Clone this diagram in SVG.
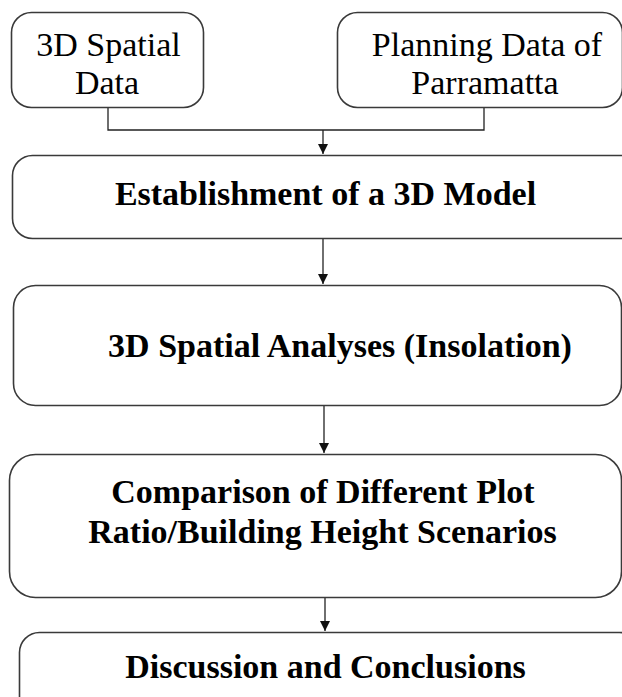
<svg xmlns="http://www.w3.org/2000/svg" width="622" height="697" viewBox="0 0 622 697">
<style>
.box{fill:#fff;stroke:#3a3a3a;stroke-width:1.6}
text{font-family:'Liberation Serif','Times New Roman','DejaVu Serif',serif;font-size:34px;fill:#000;text-anchor:middle}
.b{font-weight:bold}
.c{fill:none;stroke:#222;stroke-width:1.3}
</style>
<defs>
<marker id="ah" viewBox="0 0 10 10" refX="10" refY="5" markerWidth="10" markerHeight="10" markerUnits="userSpaceOnUse" orient="auto">
<path d="M0,0 L10,5 L0,10 Z" fill="#111"/>
</marker>
</defs>
<rect width="622" height="697" fill="#fff"/>
<g id="connectors">
<polyline class="c" points="108,107 108,130 484,130 484,107"/>
<line class="c" x1="323" y1="130" x2="323" y2="154" marker-end="url(#ah)"/>
<line class="c" x1="323" y1="238" x2="323" y2="284" marker-end="url(#ah)"/>
<line class="c" x1="324" y1="405" x2="324" y2="453" marker-end="url(#ah)"/>
<line class="c" x1="325" y1="597" x2="325" y2="631" marker-end="url(#ah)"/>
</g>
<g id="n1">
<rect class="box" x="11.5" y="12.5" width="192" height="95" rx="20"/>
<text x="108.5" y="56">3D Spatial</text>
<text x="107" y="94">Data</text>
</g>
<g id="n2">
<rect class="box" x="337.5" y="12.5" width="285" height="95" rx="20"/>
<text x="487" y="56">Planning Data of</text>
<text x="485" y="94">Parramatta</text>
</g>
<g id="n3">
<rect class="box" x="12.5" y="155.5" width="630" height="83" rx="20"/>
<text class="b" x="325.5" y="205">Establishment of a 3D Model</text>
</g>
<g id="n4">
<rect class="box" x="13.5" y="285.5" width="608" height="120" rx="22"/>
<text class="b" x="340" y="357">3D Spatial Analyses (Insolation)</text>
</g>
<g id="n5">
<rect class="box" x="9.5" y="454.5" width="612" height="143" rx="26"/>
<text class="b" x="323" y="503">Comparison of Different Plot</text>
<text class="b" x="322.5" y="543">Ratio/Building Height Scenarios</text>
</g>
<g id="n6">
<rect class="box" x="19.5" y="632.5" width="620" height="100" rx="20"/>
<text class="b" x="325.5" y="678">Discussion and Conclusions</text>
</g>
</svg>
